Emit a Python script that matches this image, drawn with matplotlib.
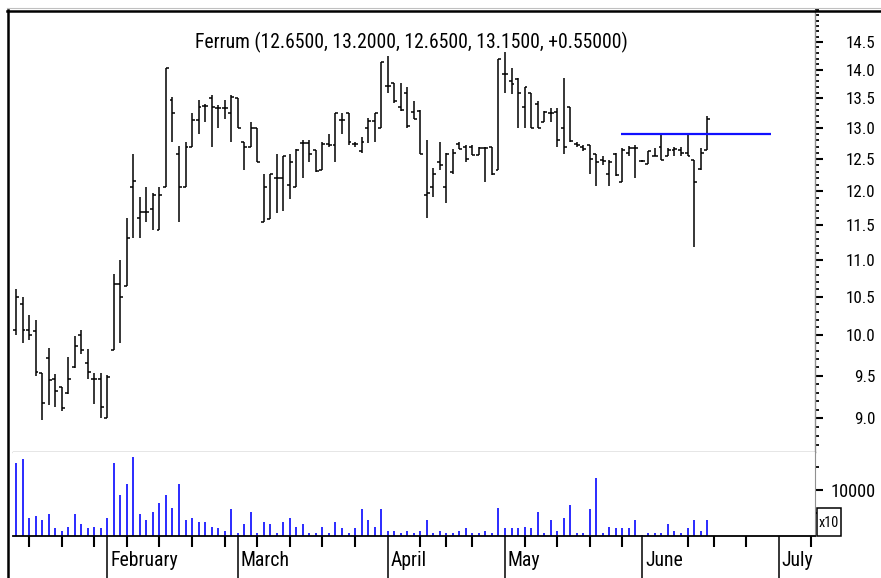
import numpy as np
import matplotlib
matplotlib.use("Agg")
import matplotlib.pyplot as plt
from matplotlib import font_manager as fm
from matplotlib.ticker import FixedLocator, FormatStrFormatter, NullFormatter
from matplotlib.transforms import ScaledTranslation
from matplotlib.lines import Line2D
from matplotlib.patches import Rectangle

# ---------------- data ----------------
title = "Ferrum (12.6500, 13.2000, 12.6500, 13.1500, +0.55000)"

opens = [10.07, 10.41, 10.07, 10.05, 9.53, 9.72, 9.46, 9.36, 9.29, 9.60,
         10.00, 9.65, 9.46, 9.46, 9.01, 9.82, 10.67, 10.64, 12.07, 11.60,
         11.69, 11.74, 11.43, 12.06, 13.47, 12.58, 12.06, 12.69, 13.13, 13.37,
         13.50, 13.33, 13.33, 13.25, 13.50, 12.78, 12.69, 13.00, 11.54, 11.59,
         12.20, 12.20, 12.10, 12.06, 12.76, 12.76, 12.65, 12.33, 12.74, 12.72,
         13.13, 13.25, 12.74, 12.63, 13.00, 13.12, 13.00, 13.72, 13.76, 13.35,
         13.60, 13.27, 13.28, 11.95, 12.07, 12.45, 12.06, 12.30, 12.74, 12.70,
         12.70, 12.56, 12.68, 12.70, 12.33, 13.93, 13.80, 13.84, 13.36, 13.60,
         13.40, 13.10, 13.25, 13.27, 13.00, 13.36, 12.75, 12.70, 12.72, 12.58,
         12.48, 12.26, 12.58, 12.15, 12.60, 12.67, 12.47, 12.43, 12.55, 12.70,
         12.55, 12.64, 12.65, 12.60, 12.48, 12.35, 12.65]
highs = [10.61, 10.50, 10.26, 10.20, 9.53, 9.84, 9.52, 9.37, 9.73, 9.99,
         10.07, 9.83, 9.53, 9.53, 9.51, 10.81, 11.00, 11.60, 12.58, 11.91,
         12.07, 11.97, 12.07, 14.03, 13.53, 12.71, 12.77, 13.25, 13.47, 13.40,
         13.55, 13.38, 13.47, 13.55, 13.50, 12.78, 13.10, 13.00, 12.26, 12.26,
         12.58, 12.55, 12.58, 12.66, 12.80, 12.80, 12.65, 12.78, 12.90, 13.25,
         13.25, 13.25, 12.77, 12.85, 13.17, 13.25, 14.14, 14.24, 13.76, 13.76,
         13.69, 13.45, 13.30, 12.80, 12.36, 12.77, 12.60, 12.66, 12.77, 12.72,
         12.72, 12.70, 12.70, 12.70, 14.20, 14.32, 14.03, 13.86, 13.70, 13.60,
         13.45, 13.28, 13.33, 13.33, 13.86, 13.36, 12.77, 12.72, 12.72, 12.58,
         12.55, 12.48, 12.60, 12.67, 12.71, 12.72, 12.48, 12.63, 12.67, 12.90,
         12.67, 12.69, 12.69, 12.90, 12.48, 12.67, 13.20]
lows = [10.00, 9.90, 9.94, 9.50, 8.98, 9.15, 9.13, 9.08, 9.28, 9.59,
        9.76, 9.46, 9.17, 9.00, 9.00, 9.82, 9.90, 10.64, 11.31, 11.31,
        11.54, 11.43, 11.43, 12.06, 12.78, 11.54, 12.06, 12.69, 12.90, 13.10,
        12.69, 13.00, 13.15, 12.77, 13.00, 12.33, 12.69, 12.45, 11.54, 11.59,
        11.67, 11.70, 11.88, 12.06, 12.20, 12.45, 12.30, 12.33, 12.70, 12.46,
        12.90, 12.72, 12.69, 12.60, 12.76, 12.77, 13.00, 13.60, 13.43, 13.28,
        13.00, 13.15, 12.58, 11.60, 11.91, 12.33, 11.82, 12.26, 12.66, 12.46,
        12.56, 12.56, 12.15, 12.25, 12.33, 13.60, 13.58, 13.00, 13.00, 13.00,
        13.00, 13.10, 13.10, 12.70, 12.58, 12.77, 12.70, 12.63, 12.26, 12.08,
        12.40, 12.08, 12.23, 12.15, 12.55, 12.20, 12.46, 12.43, 12.55, 12.48,
        12.55, 12.55, 12.55, 12.55, 11.18, 12.33, 12.65]
closes = [10.50, 10.07, 10.00, 9.55, 9.18, 9.45, 9.32, 9.12, 9.46, 9.86,
          9.82, 9.55, 9.46, 9.13, 9.49, 10.67, 10.50, 11.31, 12.16, 11.69,
          11.69, 11.95, 11.95, 14.03, 13.25, 12.06, 12.69, 13.13, 13.36, 13.37,
          13.35, 13.33, 13.33, 13.53, 13.00, 12.69, 13.00, 12.45, 12.06, 12.26,
          12.20, 12.55, 12.46, 12.65, 12.76, 12.58, 12.32, 12.74, 12.72, 13.25,
          13.13, 12.78, 12.74, 12.77, 13.12, 13.25, 14.14, 13.72, 13.45, 13.30,
          13.03, 13.15, 12.58, 11.98, 12.26, 12.40, 12.58, 12.60, 12.66, 12.50,
          12.56, 12.68, 12.68, 12.27, 14.20, 13.93, 13.75, 13.60, 13.69, 13.00,
          13.00, 13.27, 13.25, 12.80, 12.70, 12.79, 12.72, 12.66, 12.50, 12.46,
          12.47, 12.46, 12.25, 12.65, 12.68, 12.67, 12.47, 12.63, 12.55, 12.48,
          12.65, 12.66, 12.60, 12.55, 12.15, 12.60, 13.15]
volumes = [15800, 16670, 3990, 4350, 3480, 4780, 1670, 1160, 2030, 4780,
           2540, 1670, 2030, 1670, 3840, 15800, 8910, 11230, 17100, 4780,
           3480, 5290, 7100, 8910, 6160, 11230, 3480, 3990, 3040, 3040,
           2030, 1670, 1160, 5800, 720, 2540, 5290, 720, 3040, 2540,
           720, 3040, 3990, 2030, 2540, 720, 720, 2030, 720, 3040,
           1670, 720, 1670, 5800, 3480, 2030, 5800, 1160, 1160, 720,
           1160, 720, 1160, 3480, 720, 1160, 720, 720, 1160, 1670,
           720, 720, 1160, 720, 6160, 1670, 1670, 1670, 2030, 1670,
           5290, 720, 3480, 1160, 3990, 6670, 720, 720, 5800, 12540,
           720, 2030, 1670, 1670, 1670, 3480, 220, 720, 720, 720,
           2540, 1160, 720, 1670, 3480, 1160, 3480]

level_value = 12.9
level_start = 92.8
level_end = 115.8

month_names = ["February", "March", "April", "May", "June", "July"]
month_pos = [14, 34, 57, 75, 96, 117]
week_pos = [2, 7, 12, 17, 22, 27, 32, 37, 42, 47, 52, 62, 66, 70, 78, 83,
            88, 93, 103, 107, 112, 122]

price_major = [9.0, 9.5, 10.0, 10.5, 11.0, 11.5, 12.0, 12.5, 13.0, 13.5, 14.0, 14.5]
vol_major = [10000]
vol_minor = [5000, 15000]
scale_label = "x10"


# ---------------- fonts ----------------
def has_font(name):
    try:
        fm.findfont(fm.FontProperties(family=name), fallback_to_default=False)
        return True
    except Exception:
        return False


FONT = None
scale = 1.0
for name, sc in (("Liberation Sans Narrow", 1.0), ("Arial Narrow", 1.0),
                 ("Roboto Condensed", 0.98), ("Open Sans Condensed", 1.0)):
    if has_font(name):
        FONT, scale = name, sc
        break
if FONT is None:
    FONT, scale = "Liberation Sans", 0.86
plt.rcParams["font.family"] = [FONT, "DejaVu Sans"]

W, H = 881, 578
fig = plt.figure(figsize=(W / 100, H / 100), dpi=100)
fig.patch.set_facecolor("white")


def rect(x0, y0, x1, y1):
    return [x0 / W, 1 - y1 / H, (x1 - x0) / W, (y1 - y0) / H]


ax_p = fig.add_axes(rect(13, 10, 815, 452))
ax_v = fig.add_axes(rect(13, 452, 815, 536), sharex=ax_p)

x = np.arange(len(closes))
xlim = (-0.46, 122.55)

# price bars
ax_p.set_yscale("log")
ax_p.vlines(x, lows, highs, color="black", lw=1.1)
ax_p.hlines(opens, x - 0.45, x, color="black", lw=1.1)
ax_p.hlines(closes, x, x + 0.45, color="black", lw=1.1)
ax_p.hlines(level_value, level_start, level_end, color="#1010ff", lw=1.6)

ax_p.set_xlim(*xlim)
ax_p.set_ylim(8.625, 15.10)
ax_p.yaxis.tick_right()
ax_p.yaxis.set_major_locator(FixedLocator(price_major))
ax_p.yaxis.set_major_formatter(FormatStrFormatter("%.1f"))
minor = [round(v, 1) for v in np.arange(8.7, 15.15, 0.1)
         if round(v, 1) not in price_major]
ax_p.yaxis.set_minor_locator(FixedLocator(minor))
ax_p.yaxis.set_minor_formatter(NullFormatter())
ax_p.tick_params(axis="y", which="major", direction="out", length=5.5, width=1.5,
                 pad=38, labelsize=12.5 * scale, colors="black")
ax_p.tick_params(axis="y", which="minor", direction="out", length=3, width=1.3)
for lab in ax_p.get_yticklabels():
    lab.set_horizontalalignment("right")
ax_p.tick_params(axis="x", which="both", bottom=False, labelbottom=False)
for s in ("left", "top"):
    ax_p.spines[s].set_visible(False)
ax_p.spines["right"].set_color("#909090")
ax_p.spines["right"].set_linewidth(1)
ax_p.spines["bottom"].set_color("#808080")
ax_p.spines["bottom"].set_linewidth(1)

ax_p.text(0.4965, 0.9276, title, transform=ax_p.transAxes, ha="center",
          va="center", fontsize=14.4 * scale, color="black")

# volume bars
ax_v.vlines(x, 0, volumes, color="#1a1aff", lw=1.3)
ax_v.set_ylim(0, 18260)
ax_v.yaxis.tick_right()
ax_v.yaxis.set_major_locator(FixedLocator(vol_major))
ax_v.yaxis.set_major_formatter(FormatStrFormatter("%d"))
ax_v.yaxis.set_minor_locator(FixedLocator(vol_minor))
ax_v.tick_params(axis="y", which="major", direction="out", length=5.5, width=1.5,
                 pad=6, labelsize=13.5 * scale)
ax_v.tick_params(axis="y", which="minor", direction="out", length=3, width=1.3)
for s in ("left", "top"):
    ax_v.spines[s].set_visible(False)
ax_v.spines["right"].set_color("#909090")
ax_v.spines["bottom"].set_color("black")
ax_v.spines["bottom"].set_linewidth(1.3)

ax_v.xaxis.set_major_locator(FixedLocator(month_pos))
ax_v.xaxis.set_minor_locator(FixedLocator(week_pos))
ax_v.set_xticklabels(month_names)
ax_v.tick_params(axis="x", which="major", direction="out", length=31, width=1.1,
                 pad=-20, labelsize=14.5 * scale)
ax_v.tick_params(axis="x", which="minor", direction="out", length=8, width=1.5)
off = ScaledTranslation(3 / 100, 0, fig.dpi_scale_trans)
for lab in ax_v.get_xticklabels():
    lab.set_horizontalalignment("left")
    lab.set_transform(lab.get_transform() + off)
ax_v.set_xlim(*xlim)

# x10 box
fig.add_artist(Rectangle((817 / W, 1 - 536 / H), 24 / W, 28 / H,
                         transform=fig.transFigure, facecolor="white",
                         edgecolor="black", lw=1.1))
fig.text(829 / W, 1 - 523 / H, scale_label, ha="center", va="center",
         fontsize=10.5 * scale)

# frame lines
fig.add_artist(Line2D([7 / W, 1], [1 - 8 / H, 1 - 8 / H], color="#c0c0c0", lw=0.8))
fig.add_artist(Line2D([7 / W, 1], [1 - 10.5 / H, 1 - 10.5 / H], color="black", lw=1.8))
fig.add_artist(Line2D([7.5 / W, 7.5 / W], [0, 1 - 10 / H], color="black", lw=1.8))

fig.savefig("out.png", dpi=100, facecolor="white")
